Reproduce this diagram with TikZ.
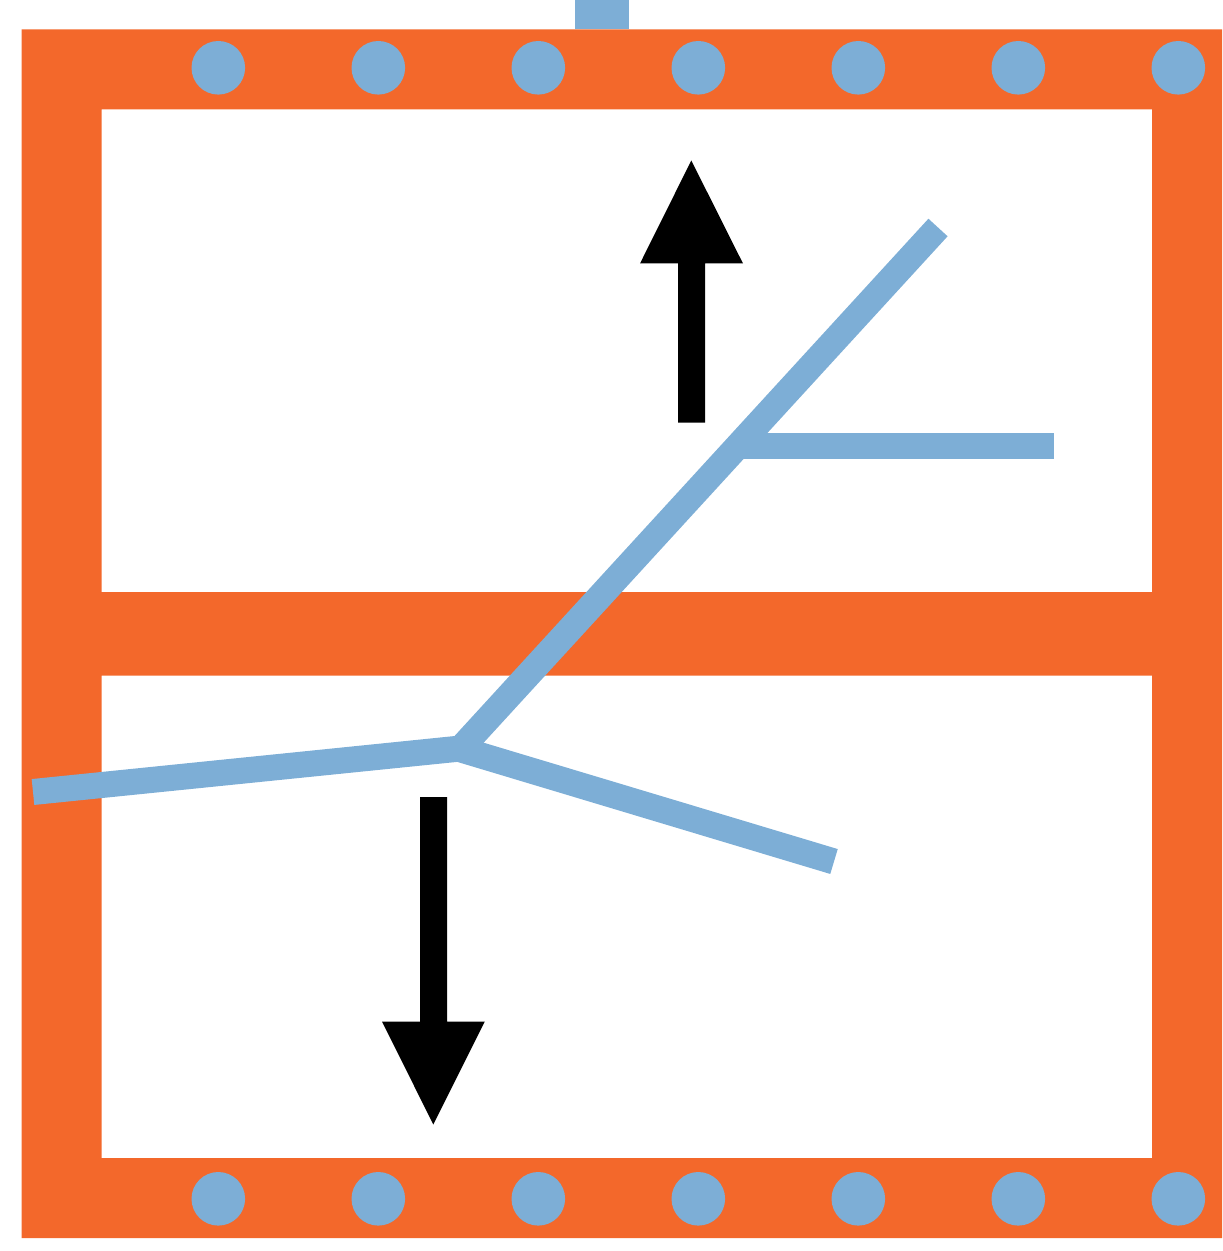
\documentclass[tikz,border=0pt]{standalone}
\definecolor{frameorange}{RGB}{243,104,43}
\definecolor{crackblue}{RGB}{125,174,214}
\tikzset{
  crack/.style={draw=crackblue,line width=13pt},
  dot/.style={fill=crackblue},
  arrowpart/.style={fill=black}
}
\begin{document}
\begin{tikzpicture}[x=0.5pt,y=-0.5pt]
\useasboundingbox (0,0) rectangle (1222,1251);
% frame
\fill[frameorange,even odd rule] (21.5,29.5) rectangle (1222,1238)
  (101.5,109.5) rectangle (1152,592)
  (101.5,675.5) rectangle (1152,1158);
% top stub
\fill[crackblue] (575,0) rectangle (629,29.5);
% dots
\foreach \x in {218.3,378.3,538.3,698.3,858.3,1018.3,1178.3}{
  \fill[dot] (\x,67.8) circle[radius=26.8];
  \fill[dot] (\x,1198.8) circle[radius=26.8];
}
% cracks
\draw[crack,line join=miter] (33,792) -- (458.5,748.7) -- (834,861.5);
\draw[crack] (938,227.5) -- (463,746);
\draw[crack] (735,446) -- (1054,446);
% arrows
\fill[arrowpart] (678,422.5) -- (705,422.5) -- (705,263.5) -- (743,263.5) -- (691.3,160.5) -- (640,263.5) -- (678,263.5) -- cycle;
\fill[arrowpart] (420,797) -- (447,797) -- (447,1021.5) -- (484.8,1021.5) -- (433.3,1124.5) -- (382,1021.5) -- (420,1021.5) -- cycle;
\end{tikzpicture}
\end{document}
